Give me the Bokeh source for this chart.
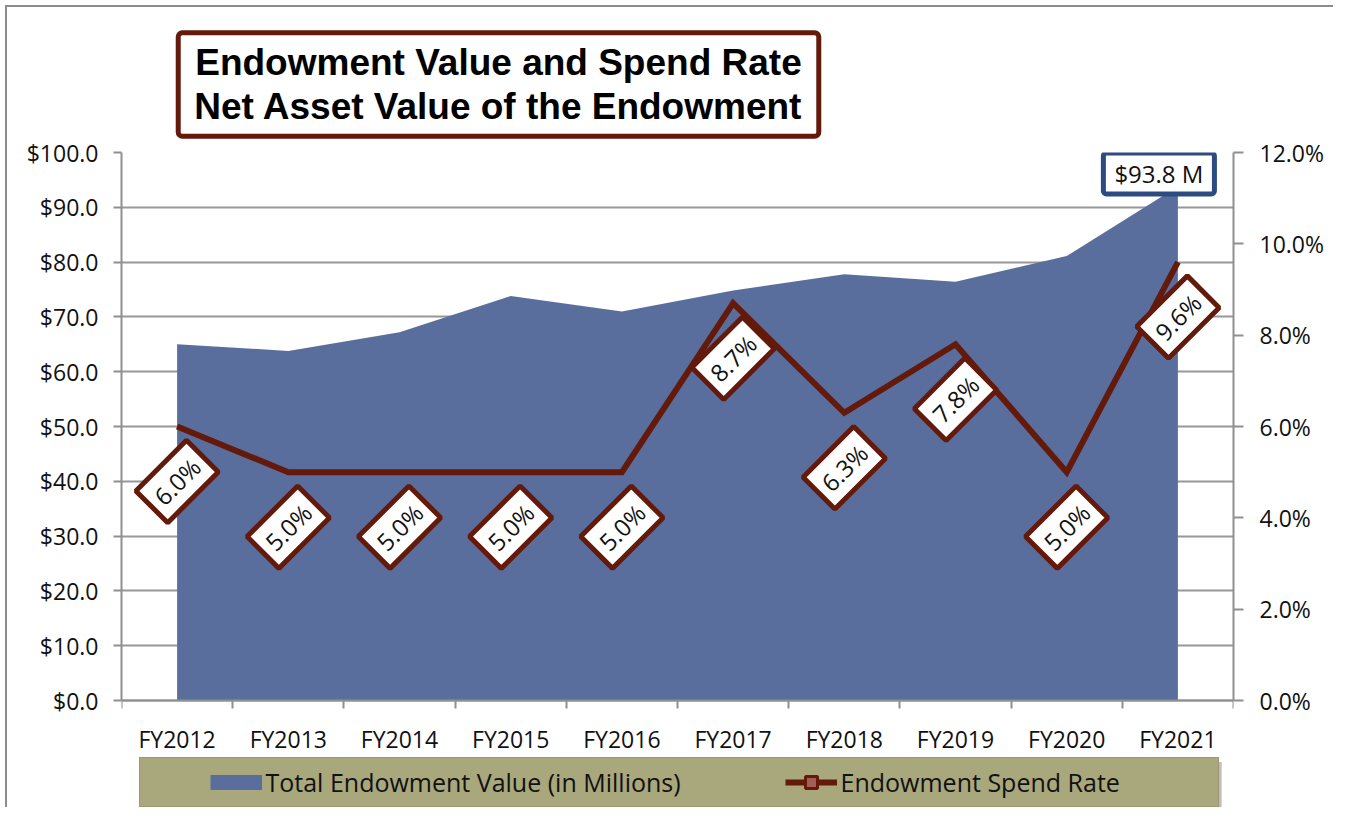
import math
from bokeh.plotting import figure
from bokeh.models import (Range1d, LinearAxis, FixedTicker, NumeralTickFormatter,
                          PrintfTickFormatter, Label, Legend, LegendItem)
from bokeh.embed import file_html
from bokeh.resources import INLINE

# ---------------- data ----------------
years = ["FY2012", "FY2013", "FY2014", "FY2015", "FY2016",
         "FY2017", "FY2018", "FY2019", "FY2020", "FY2021"]
endowment = [65.0, 63.8, 67.2, 73.8, 71.0, 74.8, 77.8, 76.4, 81.1, 93.8]   # $ millions
spend_rate = [6.0, 5.0, 5.0, 5.0, 5.0, 8.7, 6.3, 7.8, 5.0, 9.6]           # percent
left_ticks = [0, 10, 20, 30, 40, 50, 60, 70, 80, 90, 100]
right_ticks = [0, 2, 4, 6, 8, 10, 12]
title_lines = ["Endowment Value and Spend Rate", "Net Asset Value of the Endowment"]
area_label = "Total Endowment Value (in Millions)"
line_label = "Endowment Spend Rate"

# ---------------- style / layout ----------------
AREA = "#5A6E9E"
BROWN = "#631A0B"
NAVY = "#2C4B80"
OLIVE = "#A9A77C"
GRAYLINE = "#8F8F8F"
FONT = "Open Sans"
NBSP = "\u00a0"

PLOT_H = 548          # pixel height of the value area (0 .. 100)
BOTTOM_H = 107        # pixel room below the zero line (axis labels + legend)
LEFT_MAX = left_ticks[-1]
RIGHT_MAX = right_ticks[-1]
left_lo = -LEFT_MAX * BOTTOM_H / PLOT_H
right_lo = -RIGHT_MAX * BOTTOM_H / PLOT_H

n = len(years)
xs = [i + 0.5 for i in range(n)]

p = figure(frame_width=1112, frame_height=PLOT_H + BOTTOM_H,
           min_border_left=121, min_border_right=100,
           min_border_top=152, min_border_bottom=0,
           x_range=Range1d(0, n), y_range=Range1d(left_lo, LEFT_MAX),
           output_backend="svg", toolbar_location=None,
           background_fill_color="white", border_fill_color="white",
           border_fill_alpha=0)
p.styles = {"box-shadow": "inset 5px 5px 0 0 white, inset 7px 7px 0 0 #8c8c8c"}
p.outline_line_color = None
p.extra_y_ranges = {"rate": Range1d(right_lo, RIGHT_MAX)}

# x axis drawn at the zero line (ticks between categories)
xax = p.xaxis[0]
xax.fixed_location = 0
xax.ticker = FixedTicker(ticks=xs, minor_ticks=list(range(n + 1)))
xax.major_label_overrides = {x: y for x, y in zip(xs, years)}
xax.major_tick_out = 0
xax.major_tick_in = 0
xax.minor_tick_out = 8
xax.minor_tick_in = 0
xax.minor_tick_line_color = GRAYLINE
xax.minor_tick_line_width = 2
xax.axis_line_color = GRAYLINE
xax.axis_line_width = 2
xax.major_label_text_font = FONT
xax.major_label_text_font_size = "23px"
xax.major_label_text_color = "#111111"
xax.major_label_standoff = 14

# left axis
yax = p.yaxis[0]
yax.bounds = (0, LEFT_MAX)
yax.ticker = FixedTicker(ticks=left_ticks)
yax.formatter = NumeralTickFormatter(format="$0.0")
yax.major_tick_out = 8
yax.major_tick_in = 0
yax.minor_tick_out = 0
yax.minor_tick_in = 0
yax.major_tick_line_color = GRAYLINE
yax.major_tick_line_width = 2
yax.axis_line_color = GRAYLINE
yax.axis_line_width = 2
yax.major_label_text_font = FONT
yax.major_label_text_font_size = "23px"
yax.major_label_text_color = "#111111"
yax.major_label_standoff = 15

# right axis
rax = LinearAxis(y_range_name="rate", ticker=FixedTicker(ticks=right_ticks),
                 formatter=PrintfTickFormatter(format="%.1f%%"),
                 bounds=(0, RIGHT_MAX))
rax.major_tick_out = 10
rax.major_tick_in = 0
rax.minor_tick_out = 0
rax.minor_tick_in = 0
rax.major_tick_line_color = GRAYLINE
rax.major_tick_line_width = 2
rax.axis_line_color = GRAYLINE
rax.axis_line_width = 2
rax.major_label_text_font = FONT
rax.major_label_text_font_size = "23px"
rax.major_label_text_color = "#111111"
rax.major_label_standoff = 16
p.add_layout(rax, "right")

p.xgrid.visible = False
p.ygrid.grid_line_color = "#979797"
p.ygrid.grid_line_width = 2

# area
area_r = p.varea(x=xs, y1=[0] * n, y2=endowment, fill_color=AREA)

# spend-rate line
line_r = p.line(xs, spend_rate, y_range_name="rate", line_color=BROWN,
                line_width=6, line_join="miter")

# hidden renderers that only supply legend symbols
swatch_r = p.line(xs, endowment, line_color=AREA, line_width=15, line_cap="butt",
                  visible=False)
sq_r = p.scatter(xs, spend_rate, marker="square", size=16, fill_color="#A55E55",
                 line_color=BROWN, line_width=3, y_range_name="rate", visible=False)
spacer_r = p.line(xs, endowment, line_alpha=0, visible=False)

# data labels for spend rate
for x, r in zip(xs, spend_rate):
    p.add_layout(Label(x=x, y=r, y_range_name="rate", y_offset=-55,
                       text=f"{r:.1f}%", angle=math.pi / 4,
                       text_align="center", text_baseline="middle",
                       text_font=FONT, text_font_size="24px", text_color="#111111",
                       background_fill_color="white",
                       border_line_color=BROWN, border_line_width=5,
                       padding=(9, 6)))

# last endowment value label
p.add_layout(Label(x=xs[-1], y=endowment[-1], x_offset=-19, y_offset=13,
                   text=f"${endowment[-1]:.1f} M",
                   text_align="center", text_baseline="middle",
                   text_font=FONT, text_font_size="24px", text_color="#111111",
                   background_fill_color="white", border_line_color=NAVY,
                   border_line_width=5, border_radius=3, padding=(11, 4)))

# title box (placed in the panel above the plot area)
p.add_layout(Label(x=0, y=LEFT_MAX, x_offset=377, y_offset=68,
                   text="\n".join(title_lines),
                   text_align="center", text_baseline="middle",
                   text_font="Liberation Sans", text_font_style="bold",
                   text_font_size="37px", text_line_height=1.08, text_color="black",
                   background_fill_color="white", border_line_color=BROWN,
                   border_line_width=5, border_radius=4, padding=(16, 9)), "above")

# legend drop shadow
p.add_layout(Label(x=0, y=0, x_offset=561, y_offset=-86, text=" ",
                   text_align="center", text_baseline="middle",
                   text_font_size="1px", background_fill_color="#6f6f6f",
                   background_fill_alpha=0.45, padding=(539, 24)))

legend = Legend(items=[LegendItem(label=NBSP, renderers=[spacer_r]),
                       LegendItem(label=area_label + NBSP * 16, renderers=[swatch_r]),
                       LegendItem(label=line_label + NBSP * 14, renderers=[line_r, sq_r])],
                location=(18, 0), orientation="horizontal",
                glyph_width=52, glyph_height=30, label_height=30, label_standoff=4,
                label_width=0, spacing=0, padding=7, margin=0,
                background_fill_color=OLIVE, background_fill_alpha=1,
                border_line_color="#8E8C62", border_line_width=1,
                inactive_fill_alpha=0,
                label_text_font=FONT, label_text_font_size="25px",
                label_text_color="#111111")
p.add_layout(legend)

open("out.html", "w").write(file_html(p, INLINE))
